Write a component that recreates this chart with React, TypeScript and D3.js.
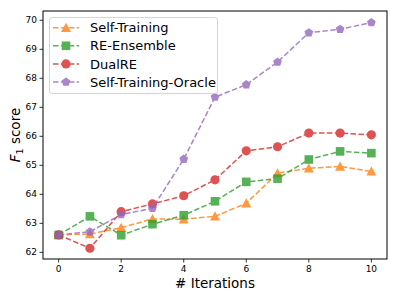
import React from "react"
import * as d3 from "d3"

const iterations = [0, 1, 2, 3, 4, 5, 6, 7, 8, 9, 10]
const selfTraining = [62.6, 62.63, 62.85, 63.15, 63.14, 63.24, 63.69, 64.73, 64.9, 64.96, 64.79]
const reEnsemble = [62.6, 63.24, 62.59, 62.97, 63.28, 63.76, 64.43, 64.54, 65.2, 65.48, 65.42]
const dualRE = [62.6, 62.14, 63.4, 63.67, 63.95, 64.5, 65.5, 65.64, 66.11, 66.11, 66.05]
const oracle = [62.6, 62.71, 63.3, 63.52, 65.21, 67.35, 67.78, 68.56, 69.57, 69.69, 69.92]
const xTicks = [0, 2, 4, 6, 8, 10]
const yTicks = [62, 63, 64, 65, 66, 67, 68, 69, 70]

type Marker = "triangle" | "square" | "circle" | "pentagon"

const series: { name: string; values: number[]; color: string; marker: Marker }[] = [
  { name: "Self-Training", values: selfTraining, color: "#ff7f0e", marker: "triangle" },
  { name: "RE-Ensemble", values: reEnsemble, color: "#2ca02c", marker: "square" },
  { name: "DualRE", values: dualRE, color: "#d62728", marker: "circle" },
  { name: "Self-Training-Oracle", values: oracle, color: "#9467bd", marker: "pentagon" },
]

const W = 399
const H = 299
const margin = { left: 43, right: 12, top: 11, bottom: 40 }

function markerPath(m: Marker): string {
  if (m === "triangle") return "M0,-5L-5,4.2L5,4.2Z"
  if (m === "square") return "M-4.3,-4.3H4.3V4.3H-4.3Z"
  if (m === "circle") return "M4.6,0A4.6,4.6 0 1,1 -4.6,0A4.6,4.6 0 1,1 4.6,0Z"
  const pts = d3.range(5).map((i) => {
    const a = -Math.PI / 2 + (i * 2 * Math.PI) / 5
    return [4.6 * Math.cos(a), 4.6 * Math.sin(a)]
  })
  return "M" + pts.map((p) => p.join(",")).join("L") + "Z"
}

export default function App() {
  const x = d3.scaleLinear().domain([-0.5, 10.5]).range([margin.left, W - margin.right])
  const y = d3.scaleLinear().domain([61.77, 70.32]).range([H - margin.bottom, margin.top])

  const line = d3
    .line<number>()
    .x((_, i) => x(iterations[i]))
    .y((d) => y(d))

  const font = "DejaVu Sans, sans-serif"
  const x0 = margin.left
  const x1 = W - margin.right
  const y0 = H - margin.bottom
  const y1 = margin.top

  return (
    <svg width={W} height={H} style={{ position: "absolute", left: 0, top: 0, background: "#fff" }} fontFamily={font}>
      {/* lines + markers */}
      {series.map((s) => (
        <g key={s.name} opacity={0.8}>
          <path d={line(s.values) ?? ""} fill="none" stroke={s.color} strokeWidth={1.5} strokeDasharray="5.5,2.4" />
          {s.values.map((v, i) => (
            <path key={i} d={markerPath(s.marker)} transform={`translate(${x(iterations[i])},${y(v)})`} fill={s.color} />
          ))}
        </g>
      ))}

      {/* spines */}
      <rect x={x0} y={y1} width={x1 - x0} height={y0 - y1} fill="none" stroke="#000" strokeWidth={1} />

      {/* x axis */}
      {xTicks.map((t) => (
        <g key={t} transform={`translate(${x(t)},${y0})`}>
          <line y2={3.5} stroke="#000" strokeWidth={0.8} />
          <text y={13} textAnchor="middle" fontSize={9} fill="#000">
            {t}
          </text>
        </g>
      ))}
      <text x={(x0 + x1) / 2} y={288} textAnchor="middle" fontSize={13.5} fill="#000">
        # Iterations
      </text>

      {/* y axis */}
      {yTicks.map((t) => (
        <g key={t} transform={`translate(${x0},${y(t)})`}>
          <line x2={-3.5} stroke="#000" strokeWidth={0.8} />
          <text x={-6} dy="0.34em" textAnchor="end" fontSize={9} fill="#000">
            {t}
          </text>
        </g>
      ))}
      <text transform={`translate(20,${(y0 + y1) / 2}) rotate(-90)`} textAnchor="middle" fontSize={13.5} fill="#000">
        <tspan fontStyle="italic">F</tspan>
        <tspan fontSize={9.5} dy={3}>1</tspan>
        <tspan dy={-3}> score</tspan>
      </text>

      {/* legend */}
      <rect x={49.5} y={17.5} width={168} height={76} rx={2.5} fill="#fff" fillOpacity={0.8} stroke="#ccc" strokeWidth={0.8} />
      {series.map((s, i) => {
        const ly = 27.7 + i * 18.1
        return (
          <g key={s.name}>
            <g opacity={0.8}>
              <line x1={53} x2={79} y1={ly} y2={ly} stroke={s.color} strokeWidth={1.5} strokeDasharray="5.5,2.4" />
              <path d={markerPath(s.marker)} transform={`translate(66,${ly})`} fill={s.color} />
            </g>
            <text x={90} y={ly} dy="0.36em" fontSize={13} fill="#000">
              {s.name}
            </text>
          </g>
        )
      })}
    </svg>
  )
}
